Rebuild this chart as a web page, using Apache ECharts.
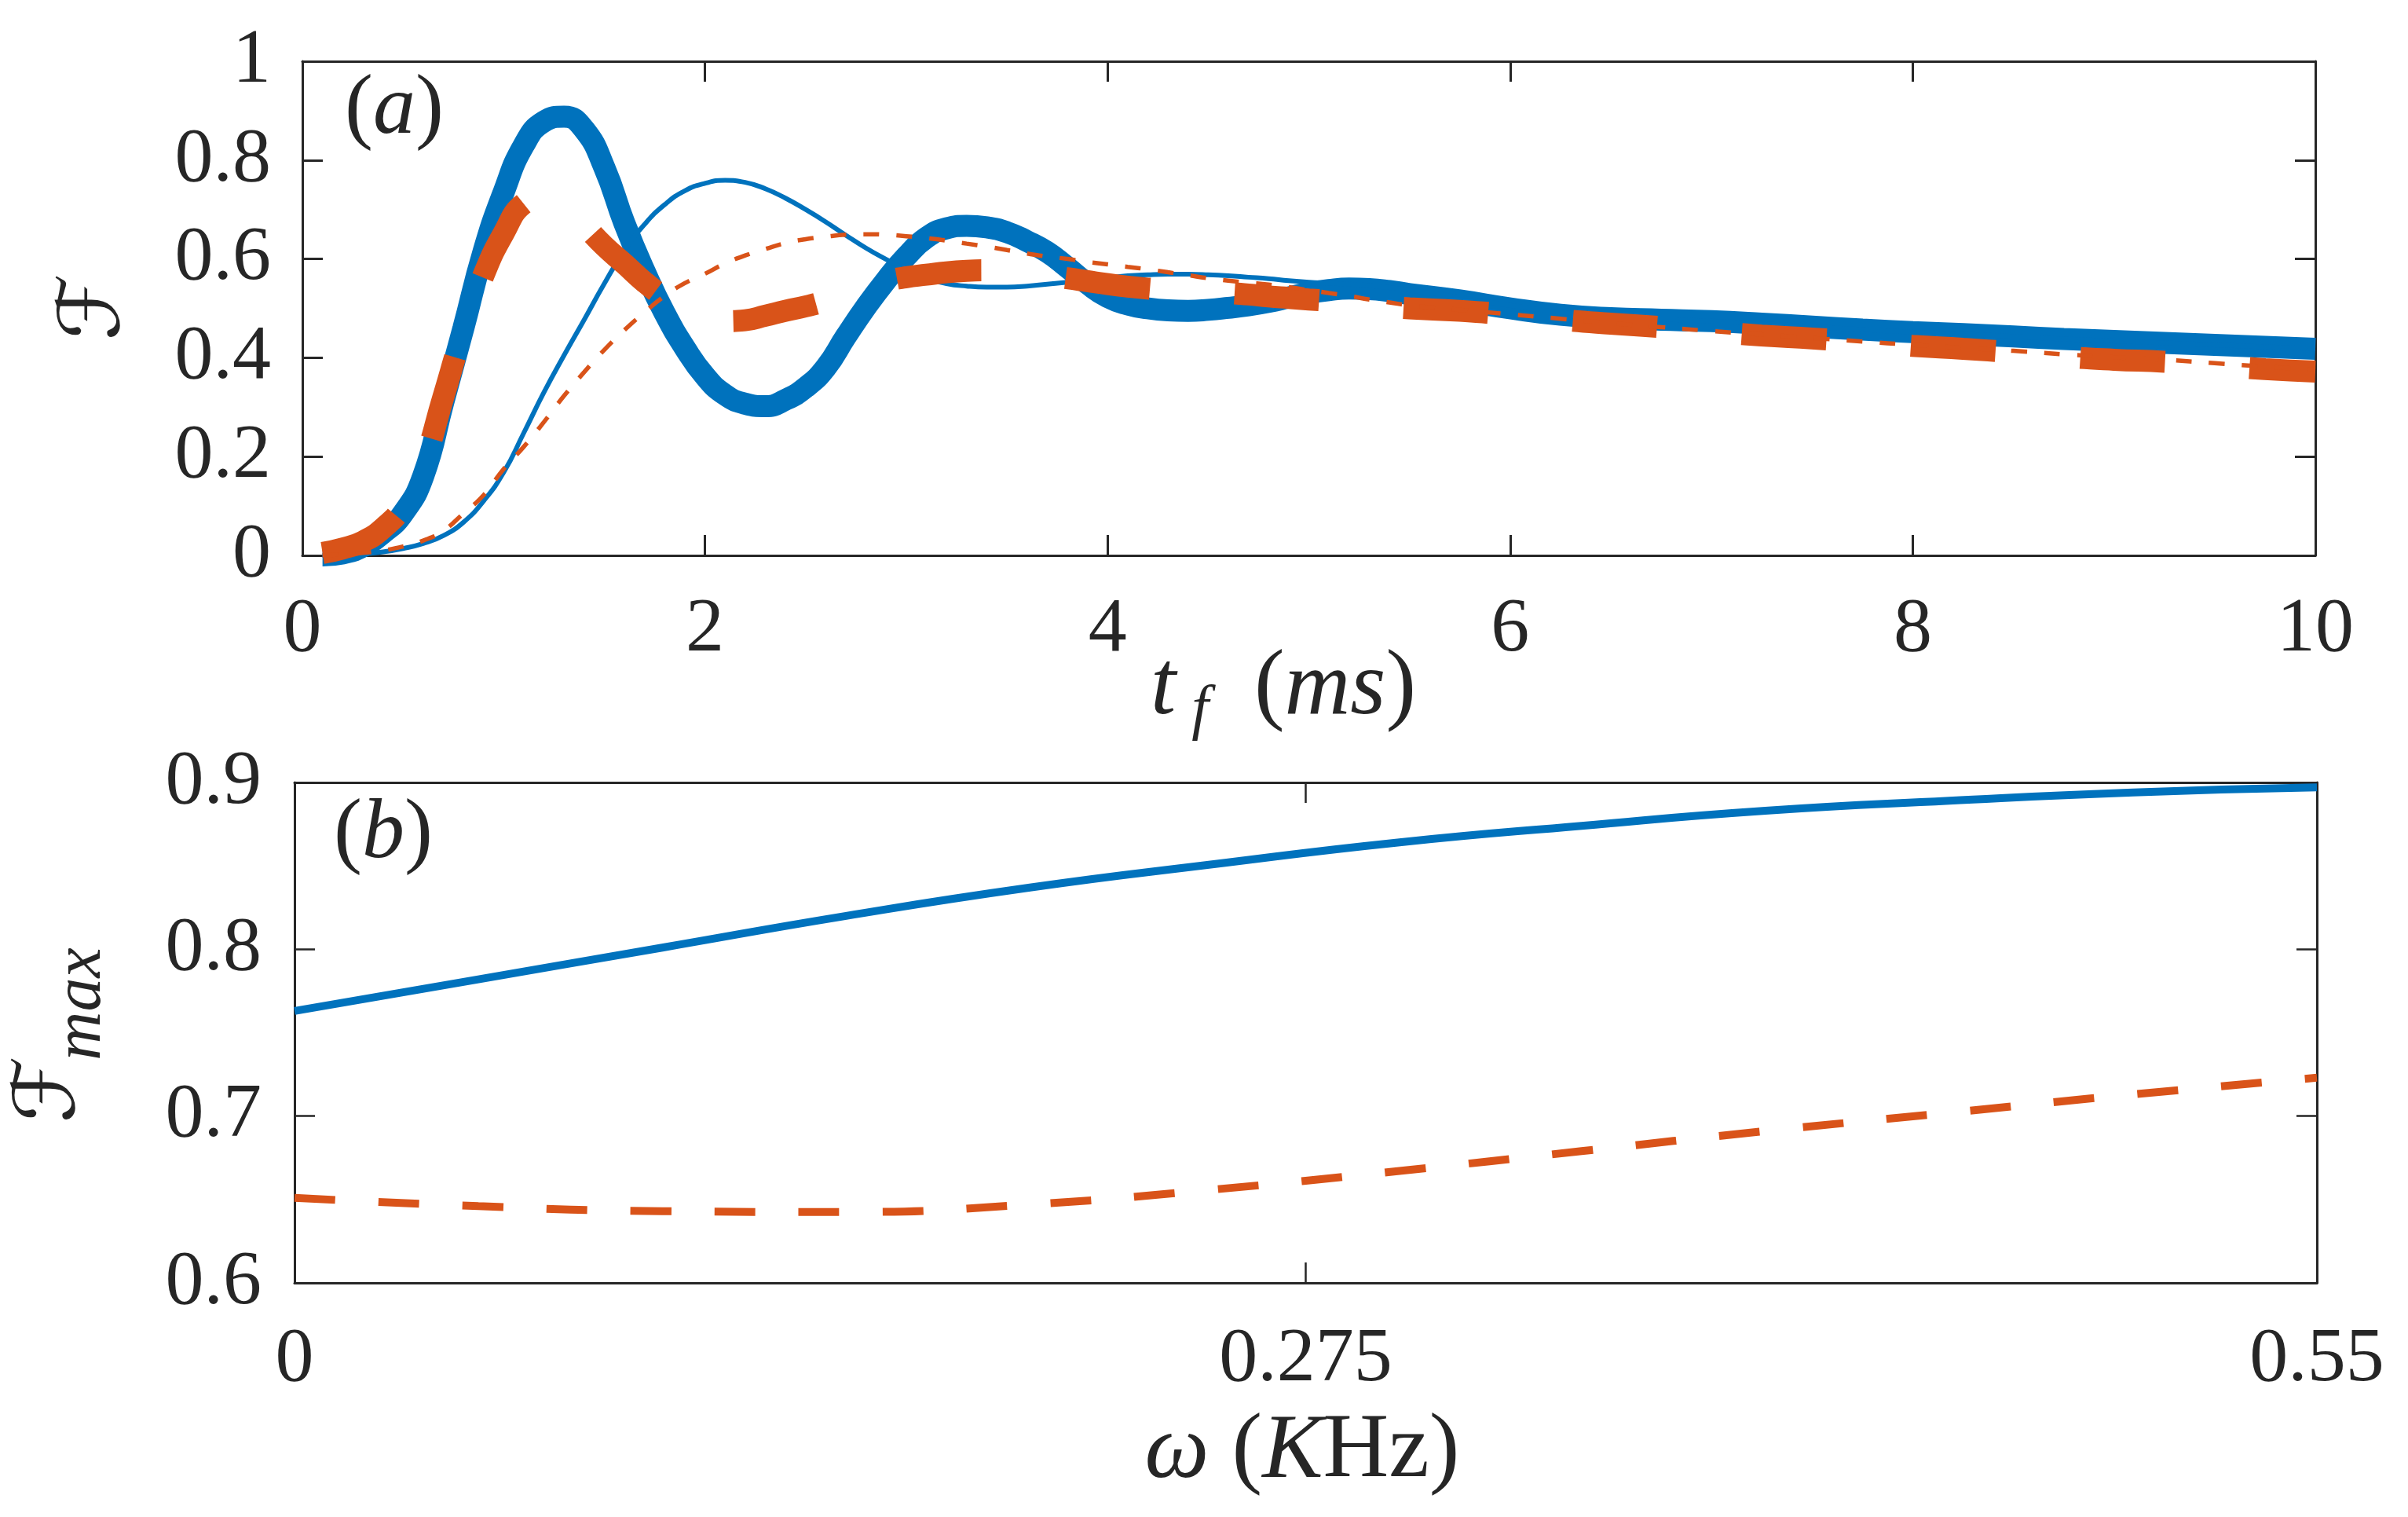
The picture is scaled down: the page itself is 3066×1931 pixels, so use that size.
<!DOCTYPE html>
<html><head><meta charset="utf-8">
<script src="https://cdn.jsdelivr.net/npm/echarts@6/dist/echarts.min.js"></script>
<style>html,body{margin:0;padding:0;background:#fff}#c{width:3066px;height:1931px}</style>
</head><body><div id="c"></div>
<script>
// ---------- Panel (a): fidelity vs t_f (ms) ----------
const tf = [0.1,0.2,0.3,0.4,0.5,0.6,0.7,0.8,0.9,1.0,1.1,1.2,1.3,1.4,1.5,1.6,1.7,1.8,1.9,2.0,
  2.1,2.2,2.3,2.4,2.5,2.6,2.7,2.8,2.9,3.0,3.1,3.2,3.3,3.4,3.5,3.6,3.7,3.8,3.9,4.0,
  4.1,4.2,4.3,4.4,4.5,4.6,4.7,4.8,4.9,5.0,5.1,5.2,5.3,5.4,5.5,
  5.75,6.0,6.25,6.5,6.75,7.0,7.25,7.5,7.75,8.0,8.25,8.5,8.75,9.0,9.25,9.5,9.75,10.0];
const fThickBlue = [0.000,0.004,0.018,0.045,0.085,0.160,0.310,0.460,0.615,0.735,0.830,0.878,0.888,0.862,0.785,0.672,0.575,0.490,0.420,0.363,
  0.325,0.307,0.302,0.315,0.340,0.380,0.443,0.503,0.557,0.605,0.643,0.662,0.667,0.664,0.654,0.636,0.614,0.583,0.550,0.523,
  0.508,0.500,0.496,0.495,0.497,0.501,0.506,0.513,0.522,0.531,0.537,0.540,0.539,0.535,0.529,
  0.516,0.500,0.487,0.480,0.477,0.474,0.469,0.463,0.457,0.452,0.448,0.443,0.438,0.434,0.430,0.426,0.422,0.418];
const fThickOrange = [0.005,0.014,0.028,0.055,0.100,0.185,0.320,0.455,0.567,0.652,0.712,0.724,0.708,0.668,0.626,0.590,0.553,0.522,0.497,0.482,
  0.474,0.476,0.485,0.495,0.504,0.515,0.528,0.543,0.555,0.563,0.568,0.573,0.576,0.577,0.575,0.571,0.566,0.561,0.555,0.549,
  0.544,0.540,0.537,0.535,0.533,0.531,0.528,0.524,0.521,0.518,0.515,0.511,0.507,0.503,0.500,
  0.495,0.487,0.477,0.469,0.462,0.453,0.445,0.439,0.432,0.424,0.418,0.411,0.402,0.396,0.392,0.385,0.377,0.372];
const fThinBlue = [0.000,0.001,0.003,0.007,0.014,0.024,0.040,0.067,0.110,0.168,0.248,0.330,0.405,0.477,0.550,0.617,0.670,0.710,0.738,0.753,
  0.759,0.755,0.742,0.723,0.700,0.675,0.648,0.622,0.599,0.578,0.561,0.550,0.545,0.543,0.543,0.545,0.549,0.553,0.558,0.562,
  0.566,0.568,0.569,0.569,0.568,0.566,0.563,0.560,0.556,0.553,0.551,0.549,0.546,0.542,0.537,
  0.522,0.506,0.492,0.483,0.478,0.474,0.469,0.463,0.457,0.452,0.448,0.443,0.438,0.434,0.430,0.426,0.422,0.418];
const fThinOrange = [0.000,0.002,0.005,0.010,0.018,0.030,0.050,0.085,0.122,0.175,0.220,0.270,0.323,0.371,0.416,0.456,0.492,0.525,0.551,0.570,
  0.591,0.607,0.620,0.632,0.640,0.645,0.649,0.650,0.649,0.646,0.642,0.637,0.631,0.625,0.618,0.611,0.605,0.600,0.594,0.589,
  0.584,0.579,0.573,0.567,0.561,0.556,0.552,0.548,0.543,0.537,0.531,0.525,0.518,0.512,0.506,
  0.497,0.488,0.479,0.470,0.462,0.454,0.447,0.440,0.433,0.426,0.420,0.414,0.407,0.401,0.396,0.389,0.382,0.376];

// ---------- Panel (b): max fidelity vs omega (KHz) ----------
const omega = [0,0.05,0.10,0.15,0.20,0.25,0.30,0.35,0.40,0.45,0.50,0.55];
const fmaxBlue = [0.763,0.782,0.801,0.820,0.837,0.851,0.864,0.874,0.883,0.889,0.894,0.897];
const fmaxOrange = [0.651,0.646,0.643,0.6425,0.647,0.656,0.667,0.679,0.691,0.702,0.713,0.723];

// tick settings
const xTicksA = {min:0, max:10, interval:2};
const yTicksA = {min:0, max:1, interval:0.2};
const xTicksB = {min:0, max:0.55, interval:0.275};
const yTicksB = {min:0.6, max:0.9, interval:0.1};

const AX = '#262626';
const BLUE = '#0072BD';
const ORANGE = '#D95319';
const SERIF = 'Liberation Serif';
const SCRIPT = '"Liberation Serif","DejaVu Sans",serif';

function pairs(xs, ys){ return xs.map((x,i)=>[x, ys[i]]); }

function axis(gridIndex, ticks, position, labelOn, margin, lw, tw){
  return Object.assign({
    gridIndex, type:'value', position,
    axisLine:{show:true, onZero:false, lineStyle:{color:AX, width:lw}},
    axisTick:{show:true, inside:true, length:26, lineStyle:{color:AX, width:tw}},
    axisLabel:{show:labelOn, margin, color:AX, fontFamily:SERIF, fontSize:98, showMinLabel:true, showMaxLabel:true, hideOverlap:false},
    splitLine:{show:false}
  }, ticks);
}

const chart = echarts.init(document.getElementById('c'));
chart.setOption({
  animation:false,
  backgroundColor:'#ffffff',
  grid:[
    {left:385, top:78, width:2563, height:629, containLabel:false},
    {left:375, top:996, width:2575, height:637, containLabel:false}
  ],
  xAxis:[
    axis(0, xTicksA, 'bottom', true, 46, 3, 3),
    axis(0, xTicksA, 'top', false, 0, 3, 3),
    axis(1, xTicksB, 'bottom', true, 49, 3, 2.5),
    axis(1, xTicksB, 'top', false, 0, 3, 2.5)
  ],
  yAxis:[
    axis(0, yTicksA, 'left', true, 40, 3, 3),
    axis(0, yTicksA, 'right', false, 0, 3, 3),
    axis(1, yTicksB, 'left', true, 42, 3, 2.5),
    axis(1, yTicksB, 'right', false, 0, 3, 2.5)
  ],
  series:[
    {type:'line', xAxisIndex:0, yAxisIndex:0, data:pairs(tf, fThickBlue), showSymbol:false, smooth:true,
      lineStyle:{color:BLUE, width:28}},
    {type:'line', xAxisIndex:0, yAxisIndex:0, data:pairs(tf, fThinBlue), showSymbol:false, smooth:true,
      lineStyle:{color:BLUE, width:6}},
    {type:'line', xAxisIndex:0, yAxisIndex:0, data:pairs(tf, fThickOrange), showSymbol:false, smooth:true,
      lineStyle:{color:ORANGE, width:28, type:[108,108], cap:'butt'}},
    {type:'line', xAxisIndex:0, yAxisIndex:0, data:pairs(tf, fThinOrange), showSymbol:false, smooth:true,
      lineStyle:{color:ORANGE, width:5.5, type:[20,22], cap:'butt'}},
    {type:'line', xAxisIndex:2, yAxisIndex:2, data:pairs(omega, fmaxBlue), showSymbol:false, smooth:true,
      lineStyle:{color:BLUE, width:10}},
    {type:'line', xAxisIndex:2, yAxisIndex:2, data:pairs(omega, fmaxOrange), showSymbol:false, smooth:true,
      lineStyle:{color:ORANGE, width:10, type:[52,55], cap:'butt'}}
  ],
  graphic:[
    // panel labels
    {type:'text', x:502, y:141, style:{text:'{n|(}{i|a}{n|)}', align:'center', verticalAlign:'middle',
      rich:{n:{fontFamily:SERIF, fontSize:108, fill:AX}, i:{fontFamily:SERIF, fontSize:108, fontStyle:'italic', fill:AX}}}},
    {type:'text', x:488, y:1063, style:{text:'{n|(}{i|b}{n|)}', align:'center', verticalAlign:'middle',
      rich:{n:{fontFamily:SERIF, fontSize:108, fill:AX}, i:{fontFamily:SERIF, fontSize:108, fontStyle:'italic', fill:AX}}}},
    // x title (a): t_f (ms)
    {type:'text', x:1481, y:877, style:{text:'t', fontFamily:SERIF, fontSize:116, fontStyle:'italic', fill:AX, align:'center', verticalAlign:'middle'}},
    {type:'text', x:1528, y:905, style:{text:'f', fontFamily:SERIF, fontSize:78, fontStyle:'italic', fill:AX, align:'center', verticalAlign:'middle'}},
    {type:'text', x:1700, y:877, style:{text:'{n|(}{i|ms}{n|)}', align:'center', verticalAlign:'middle',
      rich:{n:{fontFamily:SERIF, fontSize:116, fill:AX}, i:{fontFamily:SERIF, fontSize:116, fontStyle:'italic', fill:AX}}}},
    // x title (b): omega (KHz)
    {type:'text', x:1658, y:1849, style:{text:'{i|ω}{n| (}{i|K}{n|Hz)}', align:'center', verticalAlign:'middle',
      rich:{n:{fontFamily:SERIF, fontSize:116, fill:AX}, i:{fontFamily:SERIF, fontSize:116, fontStyle:'italic', fill:AX}}}},
    // y titles
    {type:'text', x:123, y:391, rotation:Math.PI/2, style:{text:'ℱ', fontFamily:SCRIPT, fontSize:108, fill:AX, align:'center', verticalAlign:'middle'}},
    {type:'text', x:66, y:1387, rotation:Math.PI/2, style:{text:'ℱ', fontFamily:SCRIPT, fontSize:108, fill:AX, align:'center', verticalAlign:'middle'}},
    {type:'text', x:104, y:1278, rotation:Math.PI/2, style:{text:'max', fontFamily:SERIF, fontSize:86, fontStyle:'italic', fill:AX, align:'center', verticalAlign:'middle'}}
  ]
});
</script>
</body></html>
